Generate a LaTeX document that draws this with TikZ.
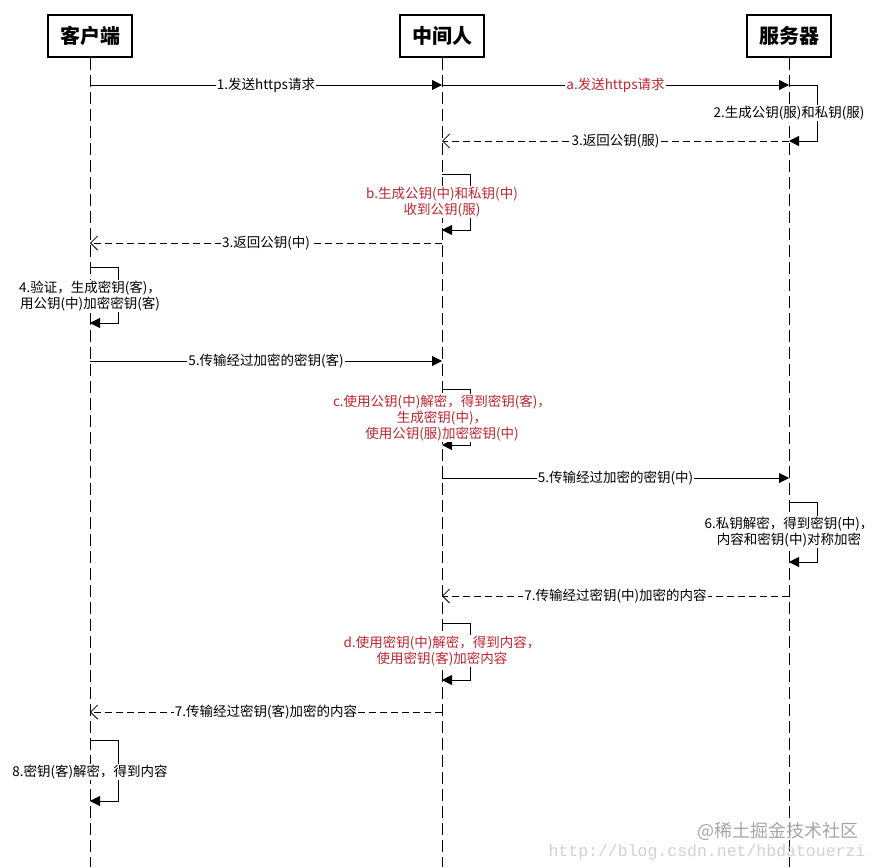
\documentclass[tikz,border=0pt]{standalone}
\usepackage{fontspec}
\setmainfont{Noto Sans CJK SC}
\newfontfamily\urlfont{Liberation Mono}
\usetikzlibrary{arrows.meta}

\definecolor{attack}{RGB}{190,38,48}

\begin{document}
\begin{tikzpicture}[
    x=1pt,y=-1pt,
    font=\fontsize{13.5}{16}\selectfont,
    line width=0.8pt,
    actor/.style={draw,line width=1.1pt,minimum width=84pt,minimum height=42pt,
        font=\fontsize{20}{22}\selectfont\bfseries},
    lifeline/.style={dash pattern=on 12pt off 5pt},
    call/.style={-{Triangle[length=10pt,width=10pt]}},
    reply/.style={dash pattern=on 7pt off 4pt,-{Straight Barb[length=7pt,width=14pt]}},
    msg/.style={fill=white,inner sep=1pt,align=center},
    fake/.style={msg,text=attack},
    wmtext/.style={inner sep=0pt}
]
\useasboundingbox (0,0) rectangle (882,867);

% === Actors ===
\node[actor] (client) at (90,36) {客户端};
\node[actor] (mitm) at (442,36) {中间人};
\node[actor] (server) at (789,36) {服务器};

% === Lifelines ===
\coordinate (client-end) at (90,867);
\coordinate (mitm-end) at (442,867);
\coordinate (server-end) at (789,867);
\draw[lifeline] (client) -- (client-end);
\draw[lifeline] (mitm) -- (mitm-end);
\draw[lifeline] (server) -- (server-end);

% === Points on the lifelines ===
\coordinate (c85) at (90,85);    \coordinate (m85) at (442,85);   \coordinate (s85) at (789,85);
\coordinate (m141) at (442,141); \coordinate (s141) at (789,141);
\coordinate (m174) at (442,174); \coordinate (m230) at (442,230);
\coordinate (c243) at (90,243);  \coordinate (m243) at (442,243);
\coordinate (c267) at (90,267);  \coordinate (c323) at (90,323);
\coordinate (c361) at (90,361);  \coordinate (m361) at (442,361);
\coordinate (m389) at (442,389); \coordinate (m445) at (442,445);
\coordinate (m478) at (442,478); \coordinate (s478) at (789,478);
\coordinate (s502) at (789,502); \coordinate (s562) at (789,562);
\coordinate (m596) at (442,596); \coordinate (s596) at (789,596);
\coordinate (m623) at (442,623); \coordinate (m680) at (442,680);
\coordinate (c712) at (90,712);  \coordinate (m712) at (442,712);
\coordinate (c740) at (90,740);  \coordinate (c801) at (90,801);

% === Handshake ===
\draw[call] (c85) -- node[msg] {1.发送https请求} (m85);
\draw[call] (m85) -- node[fake] {a.发送https请求} (s85);

\draw[call] (s85) -- ++(28,0) |- (s141);
\node[msg] (note2) at (789,113) {2.生成公钥(服)和私钥(服)};

\draw[reply] (s141) -- node[msg] {3.返回公钥(服)} (m141);

\draw[call] (m174) -- ++(28,0) |- (m230);
\node[fake] (noteb) at (442,202) {b.生成公钥(中)和私钥(中)\\收到公钥(服)};

\draw[reply] (m243) -- node[msg] {3.返回公钥(中)} (c243);

\draw[call] (c267) -- ++(28,0) |- (c323);
\node[msg] (note4) at (90,296) {4.验证，生成密钥(客)，\\用公钥(中)加密密钥(客)};

% === Key exchange ===
\draw[call] (c361) -- node[msg] {5.传输经过加密的密钥(客)} (m361);

\draw[call] (m389) -- ++(28,0) |- (m445);
\node[fake] (notec) at (442,418) {c.使用公钥(中)解密，得到密钥(客)，\\生成密钥(中)，\\使用公钥(服)加密密钥(中)};

\draw[call] (m478) -- node[msg] {5.传输经过加密的密钥(中)} (s478);

\draw[call] (s502) -- ++(28,0) |- (s562);
\node[msg] (note6) at (789,532) {6.私钥解密，得到密钥(中)，\\内容和密钥(中)对称加密};

% === Content ===
\draw[reply] (s596) -- node[msg] {7.传输经过密钥(中)加密的内容} (m596);

\draw[call] (m623) -- ++(28,0) |- (m680);
\node[fake] (noted) at (442,651) {d.使用密钥(中)解密，得到内容，\\使用密钥(客)加密内容};

\draw[reply] (m712) -- node[msg] {7.传输经过密钥(客)加密的内容} (c712);

\draw[call] (c740) -- ++(28,0) |- (c801);
\node[msg] (note8) at (90,772) {8.密钥(客)解密，得到内容};

% === Watermark ===
\node[wmtext,text=black!35,font=\fontsize{18}{20}\selectfont] (wm1) at (778,831) {@稀土掘金技术社区};
\node[wmtext,text=black!18,font=\urlfont\fontsize{16.5}{18}\selectfont] (wm2) at (707,852) {http://blog.csdn.net/hbdatouerzi};

\end{tikzpicture}
\end{document}
